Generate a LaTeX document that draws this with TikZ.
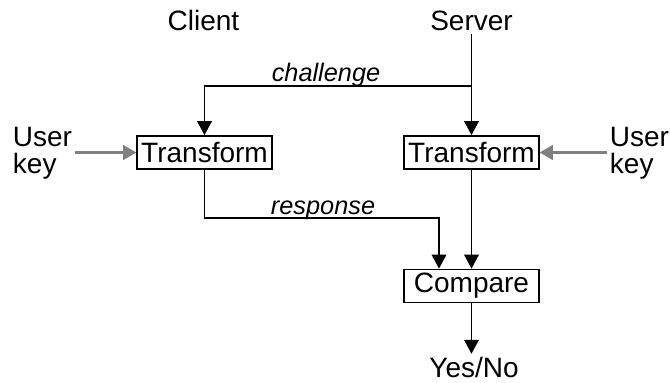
\documentclass[tikz,border=0pt]{standalone}
\usepackage{fontspec}
\setmainfont{Liberation Sans}
\usetikzlibrary{arrows.meta, positioning}

\begin{document}
\begin{tikzpicture}[x=0.75pt, y=-0.75pt]
 \tikzset{box style/.style={draw, line width=1.1pt, inner sep=0pt,
        minimum width=101pt, minimum height=25pt,
        font=\fontsize{21}{21}\selectfont}}
 \tikzset{text style/.style={inner sep=2pt, font=\fontsize{21}{20}\selectfont}}
 \tikzset{label style/.style={inner sep=0pt, font=\fontsize{19}{19}\selectfont\itshape}}
 \tikzset{flow/.style={line width=1.1pt, -{Triangle[length=10.5pt,width=11pt]}}}
 \tikzset{key flow/.style={gray, line width=2pt, -{Triangle[length=10pt,width=11pt]}}}
 \useasboundingbox (0,0) rectangle (670,382);

 % parties
 \node[text style, anchor=base] (client) at (203.5,31) {Client};
 \node[text style, anchor=base] (server) at (471.5,31) {Server};

 % boxes
 \node[box style] (TL) at (204.5,152.5) {Transform};
 \node[box style] (TR) at (471.5,152.5) {Transform};
 \node[box style] (C) at (471.5,286) {Compare};

 \node[text style, align=left, anchor=west] (UL) at (10,153) {User\\key};
 \node[text style, align=left, anchor=west] (UR) at (607,153) {User\\key};
 \node[text style, anchor=base] (YN) at (474,377) {Yes/No};

 \node[label style, anchor=base] (chl) at (326,81) {challenge};
 \node[label style, anchor=base] (rsp) at (323,214) {response};

 \coordinate (split) at (471.5,86);
 \coordinate (resp) at (439,218);

 \draw[flow] (server) -- (TR);
 \draw[flow] (split) -| (TL);
 \draw[flow] (TL) |- (resp) -- (C.north -| resp);
 \draw[flow] (TR) -- (C);
 \draw[flow] (C) -- (YN.north -| C);

 \draw[key flow] (UL.east |- TL.west) -- (TL);
 \draw[key flow] (UR.west |- TR.east) -- (TR);
\end{tikzpicture}
\end{document}
